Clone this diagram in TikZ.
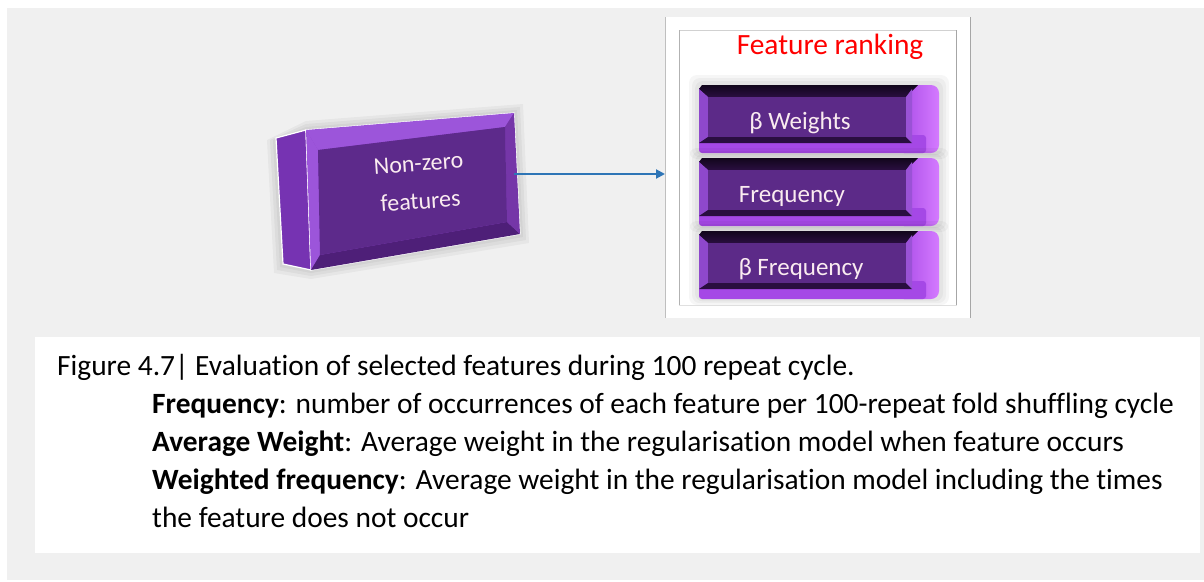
\documentclass[tikz,border=0pt]{standalone}
\usepackage{fontspec}
\setmainfont{Carlito}[Ligatures=NoCommon]
\usetikzlibrary{arrows.meta}

\definecolor{bggray}{HTML}{F0F0F0}
\definecolor{arrowblue}{HTML}{2E75B6}
\definecolor{btnface}{HTML}{5C2A88}
\definecolor{btnbevel}{HTML}{7A38B4}
\definecolor{btnlight}{HTML}{8E48CC}
\definecolor{btndark}{HTML}{2A0E40}
\definecolor{btnblack}{HTML}{12061C}
\definecolor{btnmid}{HTML}{9A52D6}
\definecolor{btnstrip}{HTML}{A548E6}
\definecolor{btncapA}{HTML}{A446E4}
\definecolor{btncapB}{HTML}{D47AFF}
\definecolor{blkside}{HTML}{7633B2}
\definecolor{blkframe}{HTML}{8A3FC6}
\definecolor{blkframeL}{HTML}{9C55DA}
\definecolor{blkframeD}{HTML}{4E1F78}
\definecolor{blkface}{HTML}{5D2A8B}

\tikzset{
  captext/.style={font=\fontsize{29.4}{34}\selectfont, anchor=base west, inner sep=0pt},
  btntext/.style={font=\fontsize{25}{28}\selectfont, text=white!92!purple, anchor=base, inner sep=0pt},
  blktext/.style={font=\fontsize{24}{28}\selectfont, text=white!92!purple, anchor=base, inner sep=0pt, rotate=4},
  panelbox/.style={fill=white, draw=none, inner sep=0pt},
  arrowline/.style={draw=arrowblue, line width=2pt, -{Triangle[length=9pt,width=9pt]}},
}

% one bevelled ranking button: #1 top edge, #2 node name, #3 text centre x, #4 label
\newcommand\rankbtn[4]{%
  \begin{scope}[shift={(0,#1)}]
    \foreach \g in {10,7,4}{\fill[black,opacity=0.035,rounded corners=8pt] (699-\g,-\g) rectangle (939+\g,68+\g*0.6);}
    \shade[left color=btncapA,right color=btncapB,rounded corners=8pt] (896,0) rectangle (939,68);
    \fill[btnstrip,rounded corners=3pt] (699,50) rectangle (926,68);
    \fill[btnbevel] (699,3) rectangle (912,58);
    \shade[top color=btnblack,bottom color=btndark] (702,0) -- (918,0) -- (906,12) -- (708,12) -- (699,4) -- cycle;
    \fill[btnlight] (699,4) -- (708,12) -- (708,52) -- (699,58) -- cycle;
    \fill[btndark] (708,52) -- (906,52) -- (912,58) -- (699,58) -- cycle;
    \fill[btnmid] (906,12) -- (912,4) -- (912,58) -- (906,52) -- cycle;
    \fill[btnface] (708,12) rectangle (906,52);
    \node[btntext] (#2) at (#3,44) {#4};
  \end{scope}}

\begin{document}
\begin{tikzpicture}[x=1pt,y=-1pt]
\useasboundingbox (0,0) rectangle (1204,581);
\fill[white] (0,0) rectangle (1204,581);
\fill[bggray] (7,8) rectangle (1204,580);

% ---- ranking panel ----
\node[panelbox, minimum width=306pt, minimum height=301pt, anchor=north west] (panel) at (665,17) {};
\draw[black!25, line width=1.2pt] (665.6,17) -- (665.6,318);
\draw[black!35, line width=1.2pt] (970.4,17) -- (970.4,318);
\fill[white] (679,30) rectangle (957,305);
\draw[black!18, line width=1pt] (679,30) -- (957,30);
\draw[black!30, line width=1.2pt] (679.6,30) -- (679.6,305);
\draw[black!35, line width=1.2pt] (956.4,30) -- (956.4,305);
\draw[black!12, line width=1pt] (679,305) -- (957,305);

\node[font=\fontsize{29.4}{34}\selectfont, text=red, anchor=base, inner sep=0pt] (title) at (830,54) {Feature ranking};

\rankbtn{85}{wts}{800}{β Weights}
\rankbtn{158}{freq}{792}{Frequency}
\rankbtn{231}{bfreq}{801}{β Frequency}

% ---- non-zero feature block ----
\foreach \g in {9,6,3}{\fill[black,opacity=0.04] (276-\g,140) -- (306,130-\g) -- (514+\g,113-\g) -- (520+\g,234+\g) -- (311,270+\g) -- (283-\g,264+\g) -- cycle;}
\fill[blkside, draw=white, line width=1.2pt] (276,138) -- (306,130) -- (311,270) -- (283,264) -- cycle;
\fill[blkframe, draw=white, line width=1.2pt] (306,130) -- (514,113) -- (520,234) -- (311,270) -- cycle;
\fill[blkframeL] (306,130) -- (514,113) -- (505,127) -- (318,150) -- cycle;
\fill[blkframeL] (306,130) -- (318,150) -- (320,255) -- (311,270) -- cycle;
\fill[blkframeD] (320,255) -- (507,222) -- (520,234) -- (311,270) -- cycle;
\fill[blkframe!85!black] (505,127) -- (514,113) -- (520,234) -- (507,222) -- cycle;
\fill[blkface] (318,150) -- (505,127) -- (507,222) -- (320,255) -- cycle;
\node[blktext] (nz1) at (419,171) {Non-zero};
\node[blktext] (nz2) at (421,209) {features};
\coordinate (blkE) at (514,174);

\draw[arrowline] (blkE) -- (blkE -| panel.west);

% ---- caption ----
\fill[white] (35,337) rectangle (1200,553);
\node[captext] (cap1) at (57,375) {Figure 4.7| Evaluation of selected features during 100 repeat cycle.};
\node[captext] (cap2) at (152,413) {\textbf{Frequency}: number of occurrences of each feature per 100-repeat fold shuffling cycle};
\node[captext] (cap3) at (152,451) {\textbf{Average Weight}: Average weight in the regularisation model when feature occurs};
\node[captext] (cap4) at (152,489) {\textbf{Weighted frequency}: Average weight in the regularisation model including the times};
\node[captext] (cap5) at (152,527) {the feature does not occur};
\end{tikzpicture}
\end{document}
